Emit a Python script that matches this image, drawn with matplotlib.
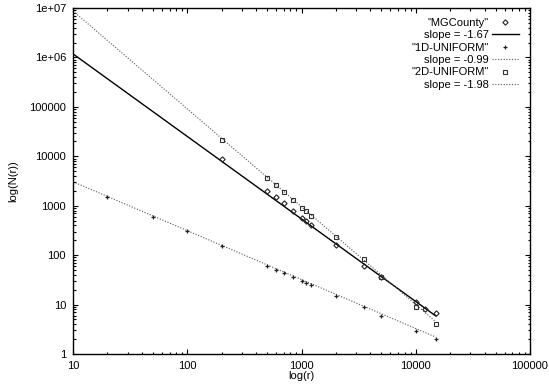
import matplotlib
matplotlib.use("Agg")
import matplotlib.pyplot as plt
import numpy as np
from matplotlib.ticker import FixedLocator, LogLocator, NullFormatter

plt.rcParams['font.family'] = ['Liberation Sans', 'DejaVu Sans']
plt.rcParams['font.size'] = 8

# ---- data ----
mg_r = [200, 500, 600, 700, 850, 1000, 1100, 1200, 2000, 3500, 5000, 10000, 12000, 15000]
mg_n = [8690, 2013, 1480, 1119, 782, 564, 484, 413, 157, 61, 35.6, 11.1, 8.0, 6.85]

u1_r = [20, 50, 100, 200, 500, 600, 700, 850, 1000, 1100, 1200, 2000, 3500, 5000, 10000, 15000]
u1_n = [1521, 600, 304, 151, 61, 50, 43, 36, 30, 27.7, 24.9, 15.1, 8.8, 6.0, 2.96, 2.01]

u2_r = [200, 500, 600, 700, 850, 1000, 1100, 1200, 2000, 3500, 5000, 10000, 15000]
u2_n = [21000, 3690, 2590, 1868, 1305, 912, 793, 628, 230, 82, 35.6, 8.8, 4.0]

fit_slopes = [-1.67, -0.99, -1.98]
fit_intercepts_at_10 = [1.18e6, 3060, 8.7e6]
fit_range = [10, 15000]

series_names = ['"MGCounty"', '"1D-UNIFORM"', '"2D-UNIFORM"']
slope_labels = ['slope = -1.67', 'slope = -0.99', 'slope = -1.98']

x_ticks = [10, 100, 1000, 10000, 100000]
x_tick_labels = ['10', '100', '1000', '10000', '100000']
y_ticks = [1, 10, 100, 1000, 10000, 100000, 1e6, 1e7]
y_tick_labels = ['1', '10', '100', '1000', '10000', '100000', '1e+06', '1e+07']

fig = plt.figure(figsize=(5.49, 3.88), dpi=100)
ax = fig.add_axes([73/549, 1-354/388, (530-73)/549, (354-8)/388])

rr = np.array(fit_range, dtype=float)
fit_lines = [
    ax.plot(rr, fit_intercepts_at_10[i] * (rr / 10.0) ** fit_slopes[i], **sty)[0]
    for i, sty in enumerate([
        dict(color='black', lw=1.0, ls='-'),
        dict(color='#555555', lw=0.8, ls=(0, (1, 1.5))),
        dict(color='#555555', lw=0.8, ls=(0, (1, 1.5))),
    ])
]

h_mg, = ax.plot(mg_r, mg_n, ls='none', marker='D', ms=2.7, mfc='none', mec='#222222', mew=0.8)
h_u1, = ax.plot(u1_r, u1_n, ls='none', marker='+', ms=3.5, mec='#222222', mew=0.9)
h_u2, = ax.plot(u2_r, u2_n, ls='none', marker='s', ms=3.4, mfc='none', mec='#333333', mew=0.8)

ax.set_xscale('log')
ax.set_yscale('log')
ax.set_xlim(10, 100000)
ax.set_ylim(1, 1e7)

ax.xaxis.set_major_locator(FixedLocator(x_ticks))
ax.set_xticklabels(x_tick_labels)
ax.yaxis.set_major_locator(FixedLocator(y_ticks))
ax.set_yticklabels(y_tick_labels)
ax.xaxis.set_minor_locator(LogLocator(base=10, subs=np.arange(2, 10), numticks=20))
ax.yaxis.set_minor_locator(LogLocator(base=10, subs=np.arange(2, 10), numticks=20))
ax.xaxis.set_minor_formatter(NullFormatter())
ax.yaxis.set_minor_formatter(NullFormatter())

ax.tick_params(which='both', direction='in', top=True, right=True, width=0.8)
ax.tick_params(which='major', length=3.5, pad=5)
ax.tick_params(which='minor', length=1.8)
for s in ax.spines.values():
    s.set_linewidth(1.0)

ax.set_xlabel('log(r)', labelpad=0)
ax.set_ylabel('log(N(r))', labelpad=8)

handles = [h_mg, fit_lines[0], h_u1, fit_lines[1], h_u2, fit_lines[2]]
labels = [series_names[0], slope_labels[0], series_names[1], slope_labels[1],
          series_names[2], slope_labels[2]]
leg = ax.legend(handles, labels, loc='upper right', markerfirst=False, frameon=False,
                handlelength=2.4, handletextpad=0.3, labelspacing=0.22,
                borderaxespad=0.0, bbox_to_anchor=(0.985, 0.985))

fig.savefig('out.png', dpi=100)
